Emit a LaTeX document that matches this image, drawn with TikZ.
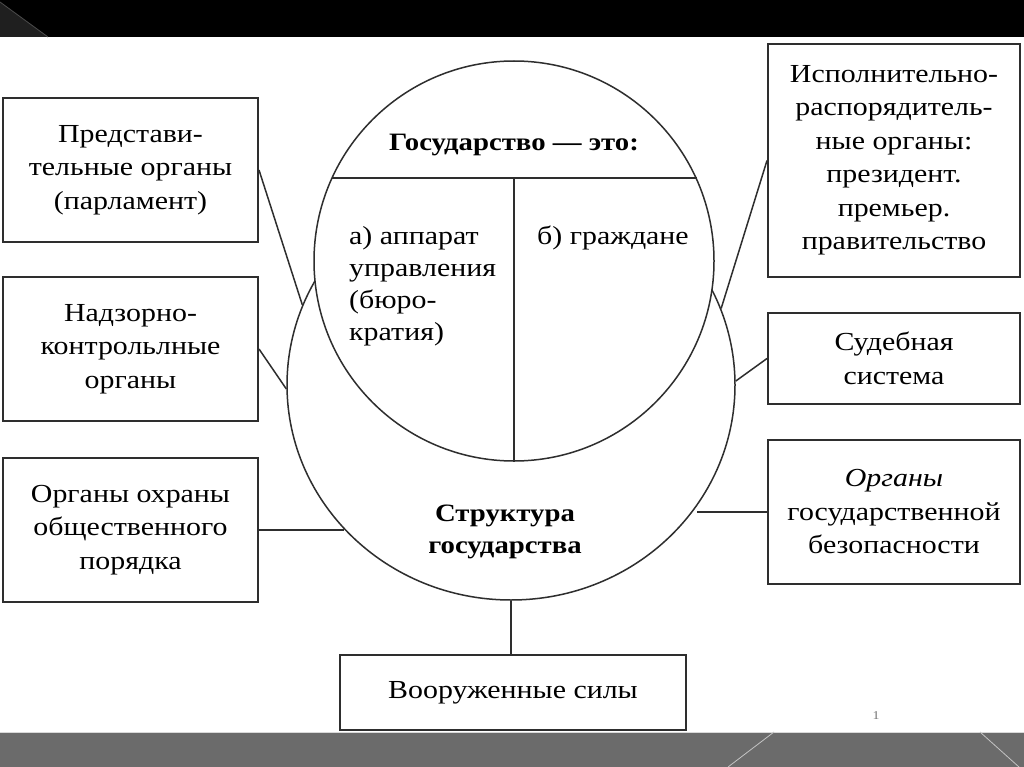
\documentclass[tikz,border=0pt]{standalone}
\usepackage{fontspec}
\setmainfont{Liberation Serif}[FakeStretch=1.15]
\usetikzlibrary{shapes.geometric,calc}
\definecolor{ink}{HTML}{2E2E2E}
\definecolor{band}{HTML}{6B6B6B}
\begin{document}
\begin{tikzpicture}[x=1pt,y=-1pt,
  conn/.style={draw=ink, line width=1.5pt},
  box/.style={draw=ink, line width=2pt, fill=white, rectangle, inner sep=0pt,
    align=center, text=black, font=\fontsize{26}{33.5}\selectfont},
  plain/.style={inner sep=0pt, text=black, font=\fontsize{26}{32}\selectfont},
  boldtxt/.style={inner sep=0pt, text=black, font=\bfseries\fontsize{25}{32}\selectfont}]
% page
\useasboundingbox (0,0) rectangle (1024,767);
\fill[white] (0,0) rectangle (1024,767);
\fill[black] (0,0) rectangle (1024,37);
\fill[black!88] (0,2) -- (48,37) -- (0,37) -- cycle;
\draw[black!70, line width=0.8pt] (0,2) -- (48,37);
\fill[band] (0,732) rectangle (1024,767);
\draw[white!85!black, line width=0.8pt] (0,732) -- (1024,732);
\draw[white!60!band, line width=0.8pt] (774,732) -- (728,767);
\draw[white!60!band, line width=0.8pt] (980,732) -- (1019,767);

% big ellipse
\node[ellipse, draw=ink, line width=1.5pt, fill=white, minimum width=448, minimum height=430, inner sep=0pt] (E) at (511,385) {};

% boxes
\node[box, minimum width=255, minimum height=144] (b1) at (130.5,170) {Представи-\\тельные органы\\(парламент)};
\node[box, minimum width=255, minimum height=144] (b2) at (130.5,349) {Надзорно-\\контрольлные\\органы};
\node[box, minimum width=255, minimum height=144] (b3) at (130.5,530) {Органы охраны\\общественного\\порядка};
\node[box, minimum width=252, minimum height=233] (b4) at (894,160.5) {Исполнительно-\\распорядитель-\\ные органы:\\президент.\\премьер.\\правительство};
\node[box, minimum width=252, minimum height=91] (b5) at (894,358.5) {Судебная\\система};
\node[box, minimum width=252, minimum height=144] (b6) at (894,512) {\textit{Органы}\\государственной\\безопасности};
\node[box, minimum width=346, minimum height=75] (b7) at (513,692.5) {Вооруженные силы};

% connectors
\draw[conn] (b1.east) -- (E.159);
\draw[conn] (b2.east) -- (E.181);
\draw[conn] (b3.east) -- (b3.east -| E.221);
\draw[conn] (b4.west) -- (E.20.5);
\draw[conn] (b5.west) -- (E.1.3);
\draw[conn] (b6.west) -- (b6.west -| E.-33);
\draw[conn] (E.south) -- (E.south |- b7.north);

% circle on top
\node[circle, draw=ink, line width=1.5pt, fill=white, minimum size=400, inner sep=0pt] (C) at (514,261) {};
\coordinate (chL) at ($(C.center)+(-182.5,-83)$);
\coordinate (chR) at ($(C.center)+(182.5,-83)$);
\draw[conn] (chL) -- (chR);
\draw[conn] (C.south) -- (C.south |- chR);

% texts
\node[boldtxt] (t0) at (514,145) {Государство — это:};
\node[plain, anchor=west, align=left] (ta) at (349,286) {а) аппарат\\управления\\(бюро-\\кратия)};
\node[plain, anchor=west] (tb) at (537,238) {б) граждане};
\node[boldtxt, align=center] (ts) at (505,532) {Структура\\государства};
\node[inner sep=0pt, text=black!55, font=\fontsize{12}{12}\selectfont] (pg) at (876,716) {1};
\end{tikzpicture}
\end{document}
